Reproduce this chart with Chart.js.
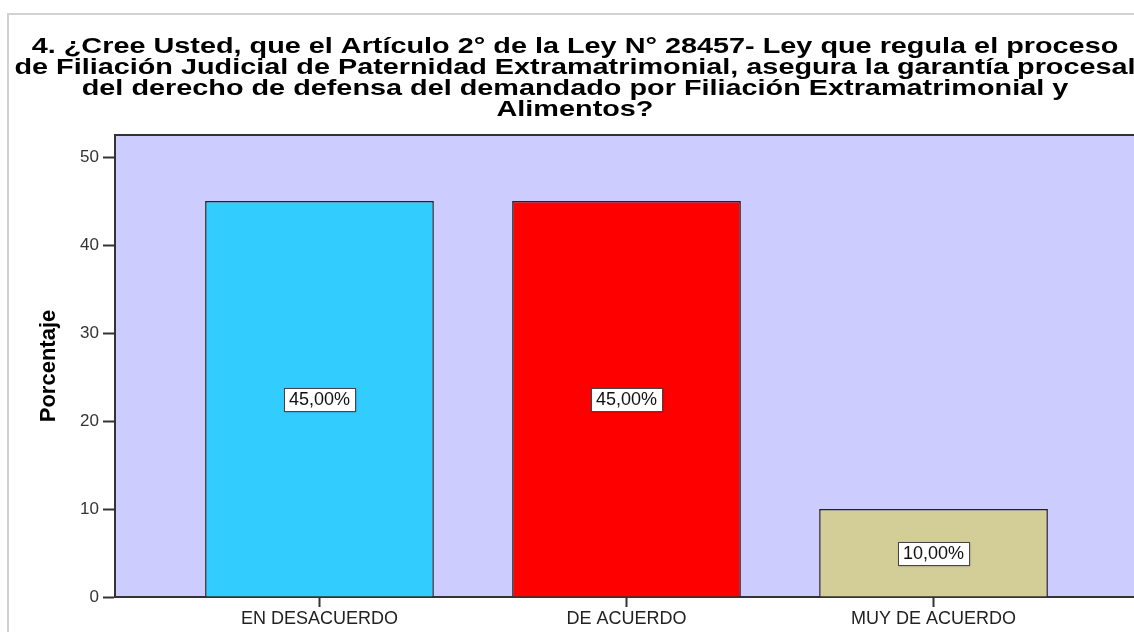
<!DOCTYPE html>
<html>
<head>
<meta charset="utf-8">
<script src="https://cdn.jsdelivr.net/npm/chart.js@4.4.0/dist/chart.umd.min.js"></script>
<style>
  html, body { margin: 0; padding: 0; background: #fff; overflow: hidden; }
  #wrap { position: relative; width: 1134px; height: 632px; overflow: hidden; }
  #frame { position: absolute; left: 7px; top: 13px; width: 1140px; height: 640px; border-left: 2px solid #d2d2d2; border-top: 2px solid #d2d2d2; }
  #chart { position: absolute; left: 0; top: 0; }
</style>
</head>
<body>
<div id="wrap">
  <div id="frame"></div>
  <canvas id="chart" width="1150" height="632"></canvas>
</div>
<script>
const titleLines = [
  "4. ¿Cree Usted, que el Artículo 2° de la Ley N° 28457- Ley que regula el proceso",
  "de Filiación Judicial de Paternidad Extramatrimonial, asegura la garantía procesal",
  "del derecho de defensa del demandado por Filiación Extramatrimonial y",
  "Alimentos?",
];
const categories = ["EN DESACUERDO", "DE ACUERDO", "MUY DE ACUERDO"];
const percentages = [45, 45, 10];
const barColors = ["#33CCFF", "#FF0000", "#D3CD98"];
const yTicks = [0, 10, 20, 30, 40, 50];

const AXIS = "#333333";
const FONT = "Arial, 'Liberation Sans', sans-serif";

// lavender plot background + top edge of the frame
const plotBg = {
  id: "plotBg",
  beforeDraw(chart) {
    const { ctx, chartArea: a } = chart;
    ctx.save();
    ctx.fillStyle = "#CCCCFF";
    ctx.fillRect(a.left, a.top, a.right - a.left, a.bottom - a.top);
    ctx.strokeStyle = AXIS;
    ctx.lineWidth = 2;
    ctx.beginPath();
    ctx.moveTo(a.left, a.top);
    ctx.lineTo(a.right, a.top);
    ctx.stroke();
    ctx.restore();
  },
};

// the SPSS title is wider than a normal font, so stretch it sideways
const wideTitle = {
  id: "wideTitle",
  afterDraw(chart) {
    const { ctx } = chart;
    ctx.save();
    ctx.font = "bold 22px " + FONT;
    ctx.fillStyle = "#000";
    ctx.textAlign = "center";
    ctx.textBaseline = "middle";
    ctx.translate(chart.width / 2, 0);
    ctx.scale(1.31, 1);
    titleLines.forEach((line, i) => {
      ctx.fillText(line, 0, 47 + i * 21);
    });
    ctx.restore();
  },
};

// white boxes with the percentage in the middle of each bar
const barLabels = {
  id: "barLabels",
  afterDatasetsDraw(chart) {
    const { ctx } = chart;
    const yScale = chart.scales.y;
    const meta = chart.getDatasetMeta(0);
    ctx.save();
    ctx.font = "18px " + FONT;
    ctx.textAlign = "center";
    ctx.textBaseline = "middle";
    meta.data.forEach((bar, i) => {
      const v = percentages[i];
      const text = v.toFixed(2).replace(".", ",") + "%";
      const y = yScale.getPixelForValue(v / 2);
      const w = Math.round(ctx.measureText(text).width + 10);
      const h = 23;
      const left = Math.round(bar.x - w / 2);
      const top = Math.round(y - h / 2);
      ctx.shadowColor = "rgba(0,0,0,0.35)";
      ctx.shadowBlur = 2;
      ctx.shadowOffsetX = 1;
      ctx.shadowOffsetY = 1;
      ctx.fillStyle = "#fff";
      ctx.fillRect(left, top, w, h);
      ctx.shadowColor = "transparent";
      ctx.strokeStyle = "#444";
      ctx.lineWidth = 1;
      ctx.strokeRect(left + 0.5, top + 0.5, w, h);
      ctx.fillStyle = "#111";
      ctx.fillText(text, bar.x, y + 1);
    });
    ctx.restore();
  },
};

new Chart(document.getElementById("chart"), {
  type: "bar",
  data: {
    datasets: [
      {
        data: percentages.map((v, i) => ({ x: i + 1, y: v })),
        backgroundColor: barColors,
        borderColor: "#222",
        borderWidth: 1.5,
        categoryPercentage: 1,
        barPercentage: 0.745,
      },
    ],
  },
  options: {
    responsive: false,
    devicePixelRatio: 1,
    animation: false,
    layout: { padding: { top: 135, right: 12, left: 0, bottom: 0 } },
    plugins: {
      legend: { display: false },
      tooltip: { enabled: false },
      title: { display: false },
    },
    scales: {
      x: {
        type: "linear",
        offset: false,
        min: 0.334,
        max: 3.666,
        afterBuildTicks: (scale) => {
          scale.ticks = categories.map((c, i) => ({ value: i + 1 }));
        },
        afterFit: (scale) => {
          scale.height = 35;
        },
        ticks: {
          callback: (v) => categories[v - 1],
          color: "#222",
          font: { family: FONT, size: 18 },
          padding: 1,
          maxRotation: 0,
        },
        grid: { offset: false, drawOnChartArea: false, tickLength: 10, tickColor: AXIS, tickWidth: 2 },
        border: { color: AXIS, width: 2 },
      },
      y: {
        min: 0,
        max: 52.5,
        afterBuildTicks: (scale) => {
          scale.ticks = yTicks.map((v) => ({ value: v }));
        },
        afterFit: (scale) => {
          scale.width = 115;
        },
        ticks: {
          color: "#333",
          font: { family: FONT, size: 17 },
          padding: 4,
        },
        grid: { drawOnChartArea: false, tickLength: 12, tickColor: AXIS, tickWidth: 2 },
        border: { color: AXIS, width: 2 },
        title: {
          display: true,
          text: "Porcentaje",
          color: "#000",
          font: { family: FONT, size: 22, weight: "bold" },
          padding: { top: 36, bottom: 0 },
        },
      },
    },
  },
  plugins: [plotBg, barLabels, wideTitle],
});
</script>
</body>
</html>
